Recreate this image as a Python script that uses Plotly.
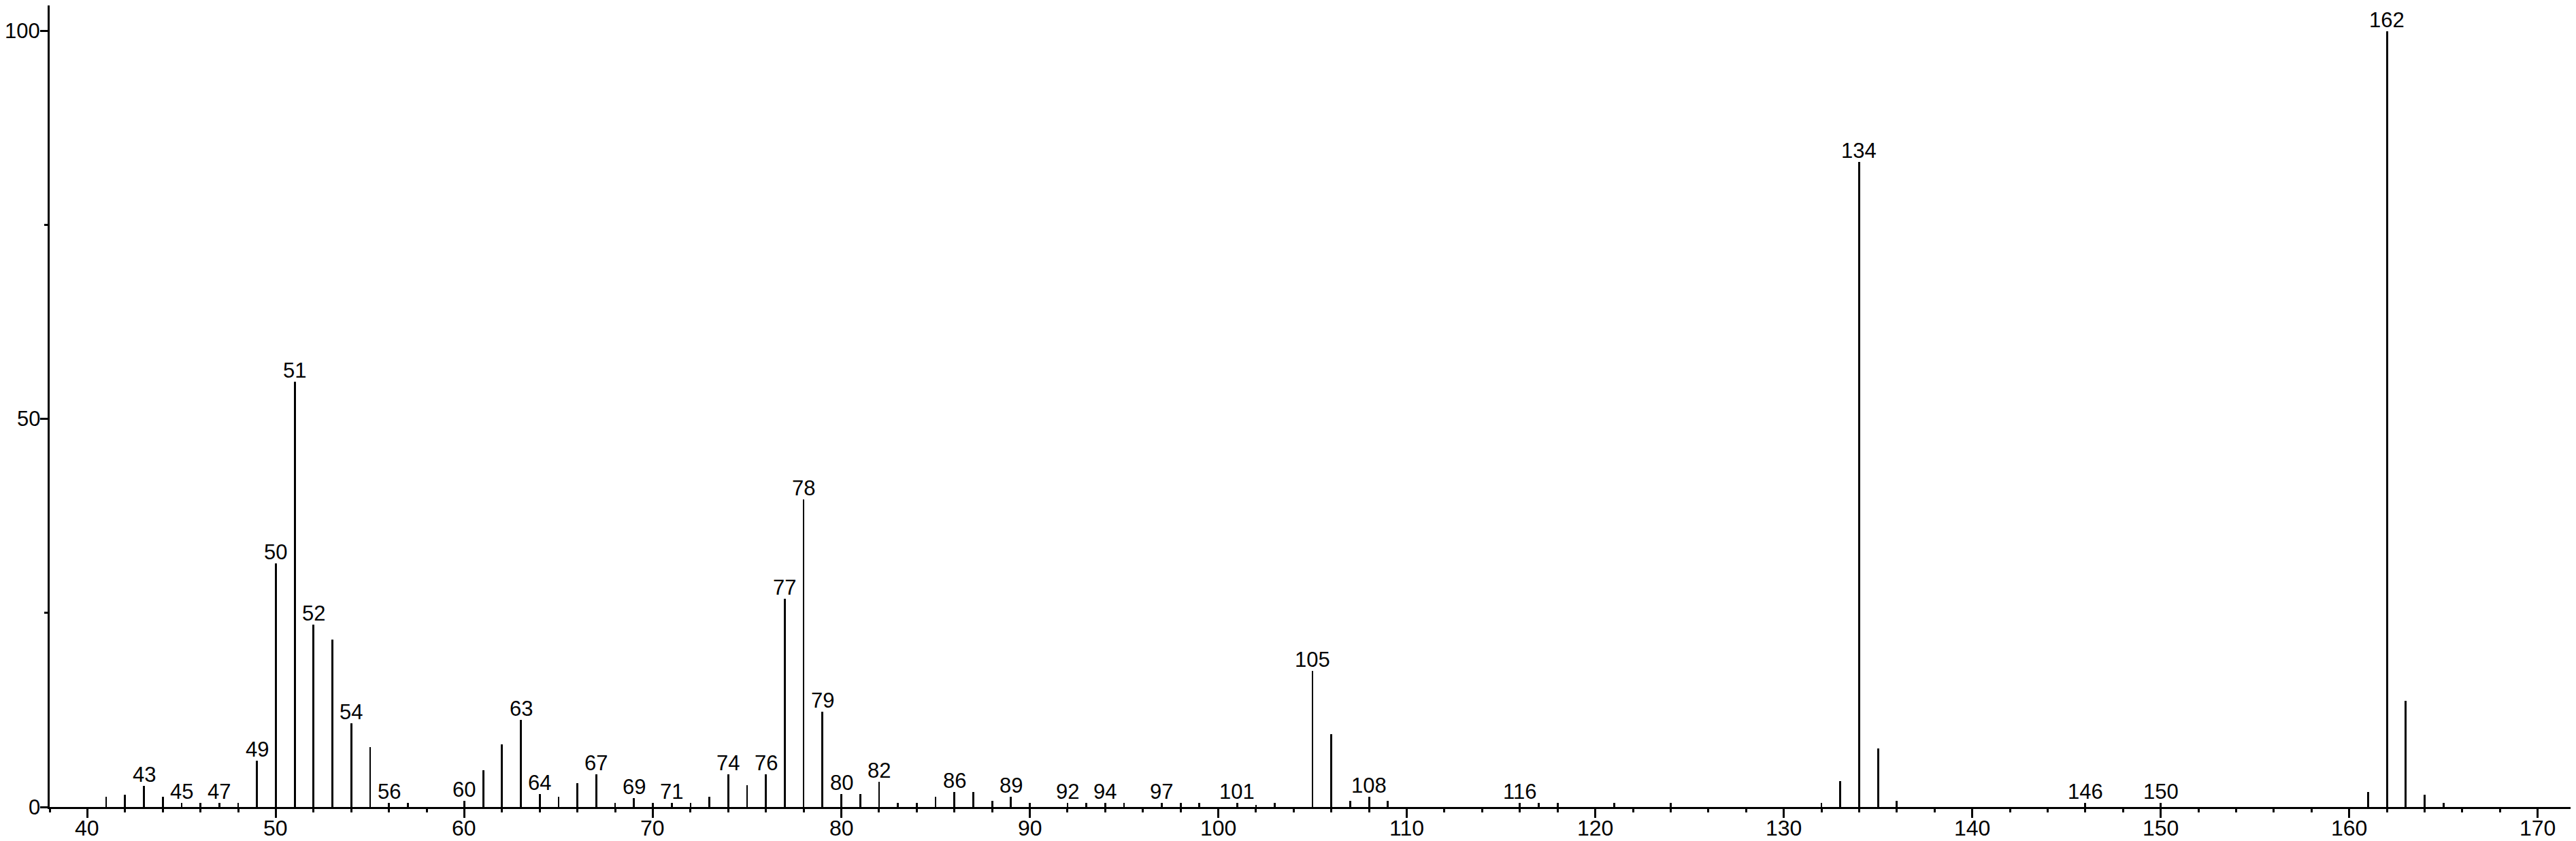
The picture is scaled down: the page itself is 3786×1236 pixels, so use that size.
import plotly.graph_objects as go

# m/z values and relative intensities (%)
mz = [41, 42, 43, 44, 45, 46, 47, 48, 49, 50, 51, 52, 53, 54, 55, 56, 57,
      60, 61, 62, 63, 64, 65, 66, 67, 68, 69, 70, 71, 72, 73, 74, 75, 76,
      77, 78, 79, 80, 81, 82, 83, 84, 85, 86, 87, 88, 89, 90, 92, 93, 94,
      95, 97, 98, 99, 101, 102, 103, 105, 106, 107, 108, 109, 116, 117,
      118, 121, 124, 132, 133, 134, 135, 136, 146, 150, 161, 162, 163,
      164, 165]
intensity = [1.3, 1.6, 2.7, 1.3, 0.5, 0.5, 0.5, 0.5, 6.0, 31.4, 54.8, 23.5,
             21.6, 10.8, 7.7, 0.5, 0.5,
             0.8, 4.7, 8.1, 11.2, 1.65, 1.35, 3.05, 4.2, 0.5, 1.1, 0.5, 0.5,
             0.5, 1.35, 4.2, 2.8, 4.2,
             26.8, 39.6, 12.3, 1.65, 1.65, 3.25, 0.5, 0.5, 1.3, 1.9, 1.9,
             0.8, 1.3, 0.5, 0.5, 0.5, 0.5,
             0.5, 0.5, 0.5, 0.5, 0.5, 0.3, 0.5, 17.5, 9.4, 0.8, 1.3, 0.8,
             0.5, 0.5,
             0.5, 0.5, 0.5, 0.5, 3.3, 83.1, 7.5, 0.8, 0.5, 0.5, 1.9, 100.0,
             13.7, 1.6, 0.5]

# peaks that carry a text label
labeled_mz = [43, 45, 47, 49, 50, 51, 52, 54, 56, 60, 63, 64, 67, 69, 71,
              74, 76, 77, 78, 79, 80, 82, 86, 89, 92, 94, 97, 101, 105, 108,
              116, 134, 146, 150, 162]

x_tickvals = [40, 50, 60, 70, 80, 90, 100, 110, 120, 130, 140, 150, 160, 170]
y_tickvals = [0, 50, 100]
y_minorvals = [25, 75]

FONT = "Liberation Sans, Arial, sans-serif"
lookup = dict(zip(mz, intensity))

fig = go.Figure()
fig.add_trace(go.Bar(
    x=mz, y=intensity, width=0.1,
    marker=dict(color="black", line=dict(width=0)),
    showlegend=False, hoverinfo="x+y",
))

# peak labels
for m in labeled_mz:
    fig.add_annotation(
        x=m, y=lookup[m], xref="x", yref="y",
        text=str(m), showarrow=False,
        xanchor="center", yanchor="bottom", yshift=-3,
        font=dict(family=FONT, size=31, color="black"),
    )

# x tick labels (placed just below the tick marks)
for v in x_tickvals:
    fig.add_annotation(
        x=v, y=0, xref="x", yref="paper",
        text=str(v), showarrow=False,
        xanchor="center", yanchor="top", yshift=-11,
        font=dict(family=FONT, size=32, color="black"),
    )

# y tick labels (placed just left of the tick marks)
for v in y_tickvals:
    fig.add_annotation(
        x=0, y=v, xref="paper", yref="y",
        text=str(v), showarrow=False,
        xanchor="right", yanchor="middle", xshift=-12,
        font=dict(family=FONT, size=31, color="black"),
    )

fig.update_layout(
    width=3786, height=1236,
    margin=dict(l=65, r=0, t=0, b=58, autoexpand=False),
    paper_bgcolor="white", plot_bgcolor="white",
    bargap=0,
    font=dict(family=FONT, size=32, color="black"),
    xaxis=dict(
        range=[38.0, 172.32], automargin=False,
        tickmode="array", tickvals=x_tickvals, showticklabels=False,
        ticks="outside", ticklen=13, tickwidth=3, tickcolor="black",
        showline=True, linecolor="black", linewidth=3,
        showgrid=False, zeroline=False,
        minor=dict(dtick=2, tick0=0, ticks="outside", ticklen=5,
                   tickwidth=3, tickcolor="black", showgrid=False),
    ),
    yaxis=dict(
        range=[0, 103.3], automargin=False,
        tickmode="array", tickvals=y_tickvals, showticklabels=False,
        ticks="outside", ticklen=11, tickwidth=3, tickcolor="black",
        showline=True, linecolor="black", linewidth=3,
        showgrid=False, zeroline=False,
        minor=dict(tickvals=y_minorvals, ticks="outside", ticklen=5,
                   tickwidth=3, tickcolor="black", showgrid=False),
    ),
)

fig.write_html("out.html")
